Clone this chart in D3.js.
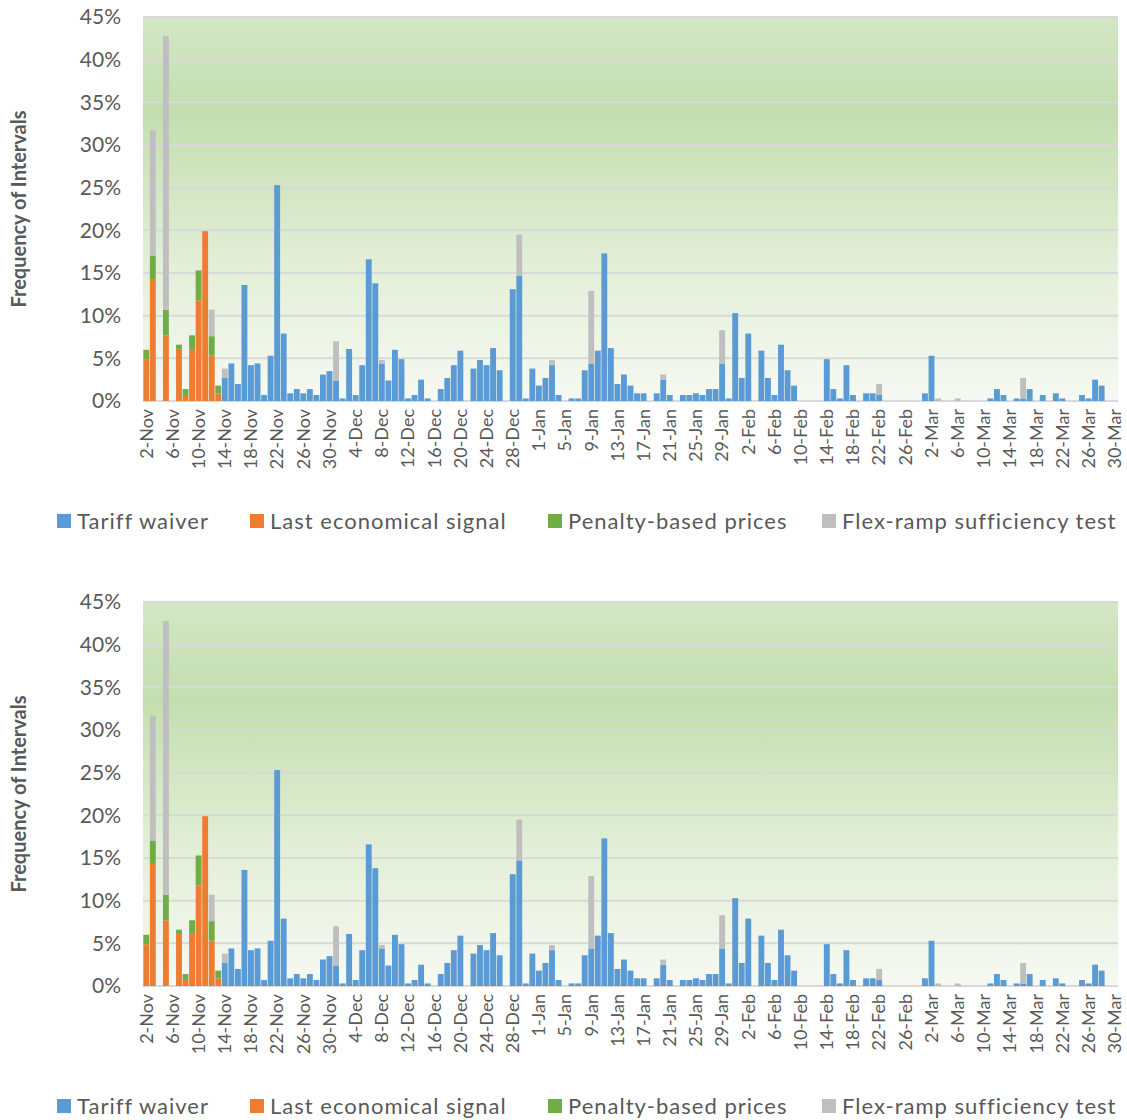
<!DOCTYPE html>
<html>
<head>
<meta charset="utf-8">
<script src="https://cdn.jsdelivr.net/npm/d3@7"></script>
<style>
  body { margin: 0; background: #fff; }
  text { font-family: Lato, "Open Sans", sans-serif; }
</style>
</head>
<body>
<svg id="chart" width="1127" height="1120"></svg>
<script>
// DATA //
const monthNames = ['Nov', 'Dec', 'Jan', 'Feb', 'Mar']
const monthStart = [2, 1, 1, 1, 1]
const monthEnd = [30, 31, 31, 28, 30]

const tariffWaiver = [
  0, 0, 0, 0, 0, 0, 0, 0, 0, 0, 0, 0, 2.7, 4.4, 2.0, 13.6, 4.2, 4.4, 0.7, 5.3,
  25.3, 7.9, 0.9, 1.4, 0.9, 1.4, 0.7, 3.1, 3.5, 2.4, 0.3, 6.1, 0.7, 4.2, 16.6, 13.8, 4.4, 2.4, 6.0, 4.9,
  0.3, 0.7, 2.5, 0.3, 0, 1.4, 2.7, 4.2, 5.9, 0, 3.8, 4.8, 4.2, 6.2, 3.6, 0, 13.1, 14.7, 0.3, 3.8,
  1.8, 2.7, 4.2, 0.7, 0, 0.3, 0.3, 3.6, 4.4, 5.9, 17.3, 6.2, 2.0, 3.1, 1.8, 0.9, 0.9, 0, 0.9, 2.5,
  0.7, 0, 0.7, 0.7, 0.9, 0.7, 1.4, 1.4, 4.4, 0.3, 10.3, 2.7, 7.9, 0, 5.9, 2.7, 0.7, 6.6, 3.6, 1.8,
  0, 0, 0, 0, 4.9, 1.4, 0.3, 4.2, 0.7, 0, 0.9, 0.9, 0.7, 0, 0, 0, 0, 0, 0, 0.9,
  5.3, 0, 0, 0, 0, 0, 0, 0, 0, 0.3, 1.4, 0.7, 0, 0.3, 0.3, 1.4, 0, 0.7, 0, 0.9,
  0.3, 0, 0, 0.7, 0.3, 2.5, 1.8, 0, 0
]
const lastEconomical = [
  4.9, 14.3, 0, 7.7, 0, 6.1, 0.7, 6.1, 11.8, 19.9, 5.3, 0.9
]
const penaltyPrices = [
  1.1, 2.7, 0, 3.0, 0, 0.5, 0.7, 1.6, 3.5, 0, 2.3, 0.9
]
// day index : added share of the flex-ramp test
const flexDays = [1, 3, 10, 12, 29, 36, 57, 62, 68, 79, 88, 112, 121, 124, 134]
const flexValues = [14.7, 32.1, 3.1, 1.1, 4.6, 0.4, 4.8, 0.6, 8.5, 0.6, 3.9, 1.3, 0.3, 0.3, 2.4]

const yTicks = [0, 5, 10, 15, 20, 25, 30, 35, 40, 45]

const seriesNames = ['Tariff waiver', 'Last economical signal', 'Penalty-based prices', 'Flex-ramp sufficiency test']
const seriesColors = ['#5b9bd5', '#ed7d31', '#70ad47', '#bfbfbf']

// BUILD TABLE //
const days = []
monthNames.forEach((m, mi) => {
  for (let d = monthStart[mi]; d <= monthEnd[mi]; d++) days.push(d + '-' + m)
})

const table = days.map((day, i) => {
  const fi = flexDays.indexOf(i)
  return {
    day: day,
    tariff: tariffWaiver[i] || 0,
    last: lastEconomical[i] || 0,
    penalty: penaltyPrices[i] || 0,
    flex: fi >= 0 ? flexValues[fi] : 0
  }
})
const keys = ['tariff', 'last', 'penalty', 'flex']
const stacked = d3.stack().keys(keys)(table)

const svg = d3.select('#chart')

const defs = svg.append('defs')
const grad = defs.append('linearGradient')
  .attr('id', 'bg').attr('x1', 0).attr('y1', 0).attr('x2', 0).attr('y2', 1)
grad.append('stop').attr('offset', '0%').attr('stop-color', '#d3e7c5')
grad.append('stop').attr('offset', '25%').attr('stop-color', '#c3deaf')
grad.append('stop').attr('offset', '65%').attr('stop-color', '#e3efd8')
grad.append('stop').attr('offset', '100%').attr('stop-color', '#f6f9f2')

// DRAW ONE CHART //
function drawChart(top) {
  const left = 143, right = 1118
  const plotTop = top + 17, plotBottom = top + 401

  const x = d3.scaleBand().domain(days).range([left, right]).paddingInner(0.1).paddingOuter(0.05)
  const y = d3.scaleLinear().domain([0, 45]).range([plotBottom, plotTop])

  const g = svg.append('g')

  g.append('rect')
    .attr('x', left).attr('y', plotTop)
    .attr('width', right - left).attr('height', plotBottom - plotTop)
    .attr('fill', 'url(#bg)')

  g.append('g')
    .selectAll('line')
    .data(yTicks)
    .enter()
    .append('line')
    .attr('x1', left).attr('x2', right)
    .attr('y1', d => y(d)).attr('y2', d => y(d))
    .attr('stroke', '#d9d9d9').attr('stroke-width', 2)

  g.append('g')
    .selectAll('g')
    .data(stacked)
    .enter()
    .append('g')
    .attr('fill', (d, i) => seriesColors[i])
    .selectAll('rect')
    .data(d => d.filter(p => p[1] - p[0] > 0))
    .enter()
    .append('rect')
    .attr('x', d => x(d.data.day))
    .attr('width', x.bandwidth())
    .attr('y', d => y(d[1]))
    .attr('height', d => y(d[0]) - y(d[1]))

  // y axis
  const yAxis = g.append('g')
    .attr('transform', `translate(${left},0)`)
    .call(d3.axisLeft(y).tickValues(yTicks).tickFormat(d => d + '%').tickSize(0).tickPadding(22))
  yAxis.select('.domain').remove()
  yAxis.selectAll('text').attr('font-size', 21).attr('fill', '#595959')

  // x axis
  const xAxis = g.append('g')
    .attr('transform', `translate(0,${plotBottom})`)
    .call(d3.axisBottom(x).tickValues(days.filter((d, i) => i % 4 === 0)).tickSize(0))
  xAxis.select('.domain').remove()
  xAxis.selectAll('text')
    .attr('font-size', 18).attr('fill', '#595959')
    .attr('transform', 'rotate(-90)')
    .attr('text-anchor', 'end')
    .attr('dx', '-8').attr('dy', '0.35em').attr('y', 0)

  g.append('text')
    .attr('transform', `translate(26,${(plotTop + plotBottom) / 2}) rotate(-90)`)
    .attr('text-anchor', 'middle')
    .attr('font-size', 20).attr('font-weight', 'bold').attr('fill', '#595959')
    .text('Frequency of Intervals')

  // legend
  const legendX = [57, 250, 548, 822]
  const legend = g.append('g')
    .selectAll('g')
    .data(seriesNames)
    .enter()
    .append('g')
    .attr('transform', (d, i) => `translate(${legendX[i]},${top + 521})`)
  legend.append('rect')
    .attr('x', 0).attr('y', -7).attr('width', 14).attr('height', 14)
    .attr('fill', (d, i) => seriesColors[i])
  legend.append('text')
    .attr('x', 20).attr('dy', '0.35em')
    .attr('font-size', 22).attr('letter-spacing', 1).attr('fill', '#595959')
    .text(d => d)
}

drawChart(0)
drawChart(585)
</script>
</body>
</html>
